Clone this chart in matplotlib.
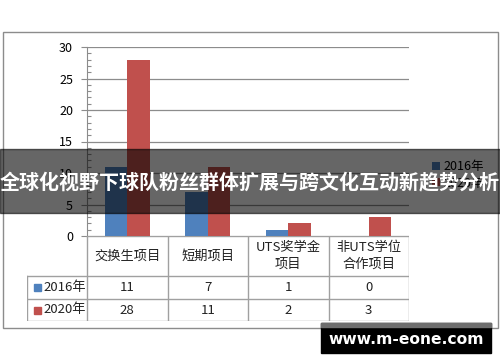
import numpy as np
import matplotlib
matplotlib.use('Agg')
import matplotlib.pyplot as plt
from matplotlib.patches import Rectangle

plt.rcParams['font.family'] = ['Noto Sans CJK SC', 'DejaVu Sans']

# данные
categories = ['交换生项目', '短期项目', 'UTS奖学金\n项目', '非UTS学位\n合作项目']
series_names = ['2016年', '2020年']
values_2016 = [11, 7, 1, 0]
values_2020 = [28, 11, 2, 3]
y_ticks = [0, 5, 10, 15, 20, 25, 30]
title = '全球化视野下球队粉丝群体扩展与跨文化互动新趋势分析'
watermark = 'www.m-eone.com'

blue = '#4F81BD'
red = '#C0504D'
grid_c = '#8C8C8C'
W, H = 500, 362


def fx(x):
    return x / W


def fy(y):
    return 1 - y / H


fig = plt.figure(figsize=(5, 3.62), dpi=100)

# рамка диаграммы
fig.patches.append(Rectangle((fx(3), fy(328)), fx(495), (328 - 32) / H,
                             transform=fig.transFigure, fill=False,
                             edgecolor='#8C8C8C', lw=1, zorder=0))

# столбцы
ax = fig.add_axes([fx(87), fy(236), (409 - 87) / W, (236 - 47) / H])
x = np.arange(len(categories))
bw = 0.28
b1 = ax.bar(x - bw / 2, values_2016, bw, color=blue, zorder=3)
b2 = ax.bar(x + bw / 2, values_2020, bw, color=red, zorder=3)
ax.set_xlim(-0.5, 3.5)
ax.set_ylim(0, 30)
ax.set_yticks(y_ticks)
ax.set_yticks(np.arange(0, 31, 1), minor=True)
ax.yaxis.grid(True, color=grid_c, lw=0.9, zorder=0)
ax.tick_params(axis='y', which='major', length=4, width=0.8, color=grid_c,
               pad=6, labelsize=9)
ax.tick_params(axis='y', which='minor', direction='in', length=3, width=0.8, color=grid_c)
ax.set_xticks([])
for s in ['top', 'right', 'bottom']:
    ax.spines[s].set_visible(False)
ax.spines['left'].set_color(grid_c)
ax.patch.set_alpha(0)

# таблица данных
tax = fig.add_axes([fx(27), fy(321), (409 - 27) / W, (321 - 236) / H])
left = -0.5 - 60 / 80.5
tax.set_xlim(left, 3.5)
tax.set_ylim(85, 0)
tax.axis('off')
lc = '#A0A0A0'
rows = [0, 40, 63, 85]
tax.plot([-0.5, 3.5], [0, 0], color=lc, lw=1)
for r in rows[1:]:
    tax.plot([left, 3.5], [r, r], color=lc, lw=1)
for c in np.arange(-0.5, 4, 1):
    tax.plot([c, c], [0, 85], color=lc, lw=1)
tax.plot([left, left], [40, 85], color=lc, lw=1)

for i, cat in enumerate(categories):
    tax.text(i, 20, cat, ha='center', va='center', fontsize=9.5,
             linespacing=1.3, color='#222222')
    tax.text(i, 51.5, str(values_2016[i]), ha='center', va='center', fontsize=9.5, color='#222222')
    tax.text(i, 74, str(values_2020[i]), ha='center', va='center', fontsize=9.5, color='#222222')

for r, name, col in [(51.5, series_names[0], blue), (74, series_names[1], red)]:
    tax.add_patch(Rectangle((left + 0.09, r - 3.5), 0.085, 7, color=col))
    tax.text(left + 0.2, r, name, ha='left', va='center', fontsize=9.5, color='#222222')

# легенда
fig.legend([b1, b2], series_names, loc='center left',
           bbox_to_anchor=(fx(426), fy(175)), frameon=False, fontsize=9,
           handlelength=0.6, handleheight=0.6, handletextpad=0.3,
           labelspacing=0.25, borderpad=0)

# баннер с заголовком
fig.patches.append(Rectangle((0, fy(213)), 1, (213 - 149) / H,
                             transform=fig.transFigure, color='black',
                             alpha=0.6, zorder=10))
fig.text(0.5, fy(183), title, ha='center', va='center', color='white',
         fontsize=14.4, fontweight='bold', zorder=11)

# водяной знак
fig.patches.append(Rectangle((fx(321), fy(353)), 170 / W, 30 / H,
                             transform=fig.transFigure, color='black', zorder=10))
fig.patches.append(Rectangle((fx(321), fy(327)), 170 / W, 4 / H,
                             transform=fig.transFigure, color='#6E6E6E', zorder=10))
fig.text(fx(406), fy(340), watermark, ha='center', va='center', color='white',
         fontsize=11.2, fontweight='bold', family='DejaVu Sans', zorder=11)

fig.savefig('out.png', dpi=100)
